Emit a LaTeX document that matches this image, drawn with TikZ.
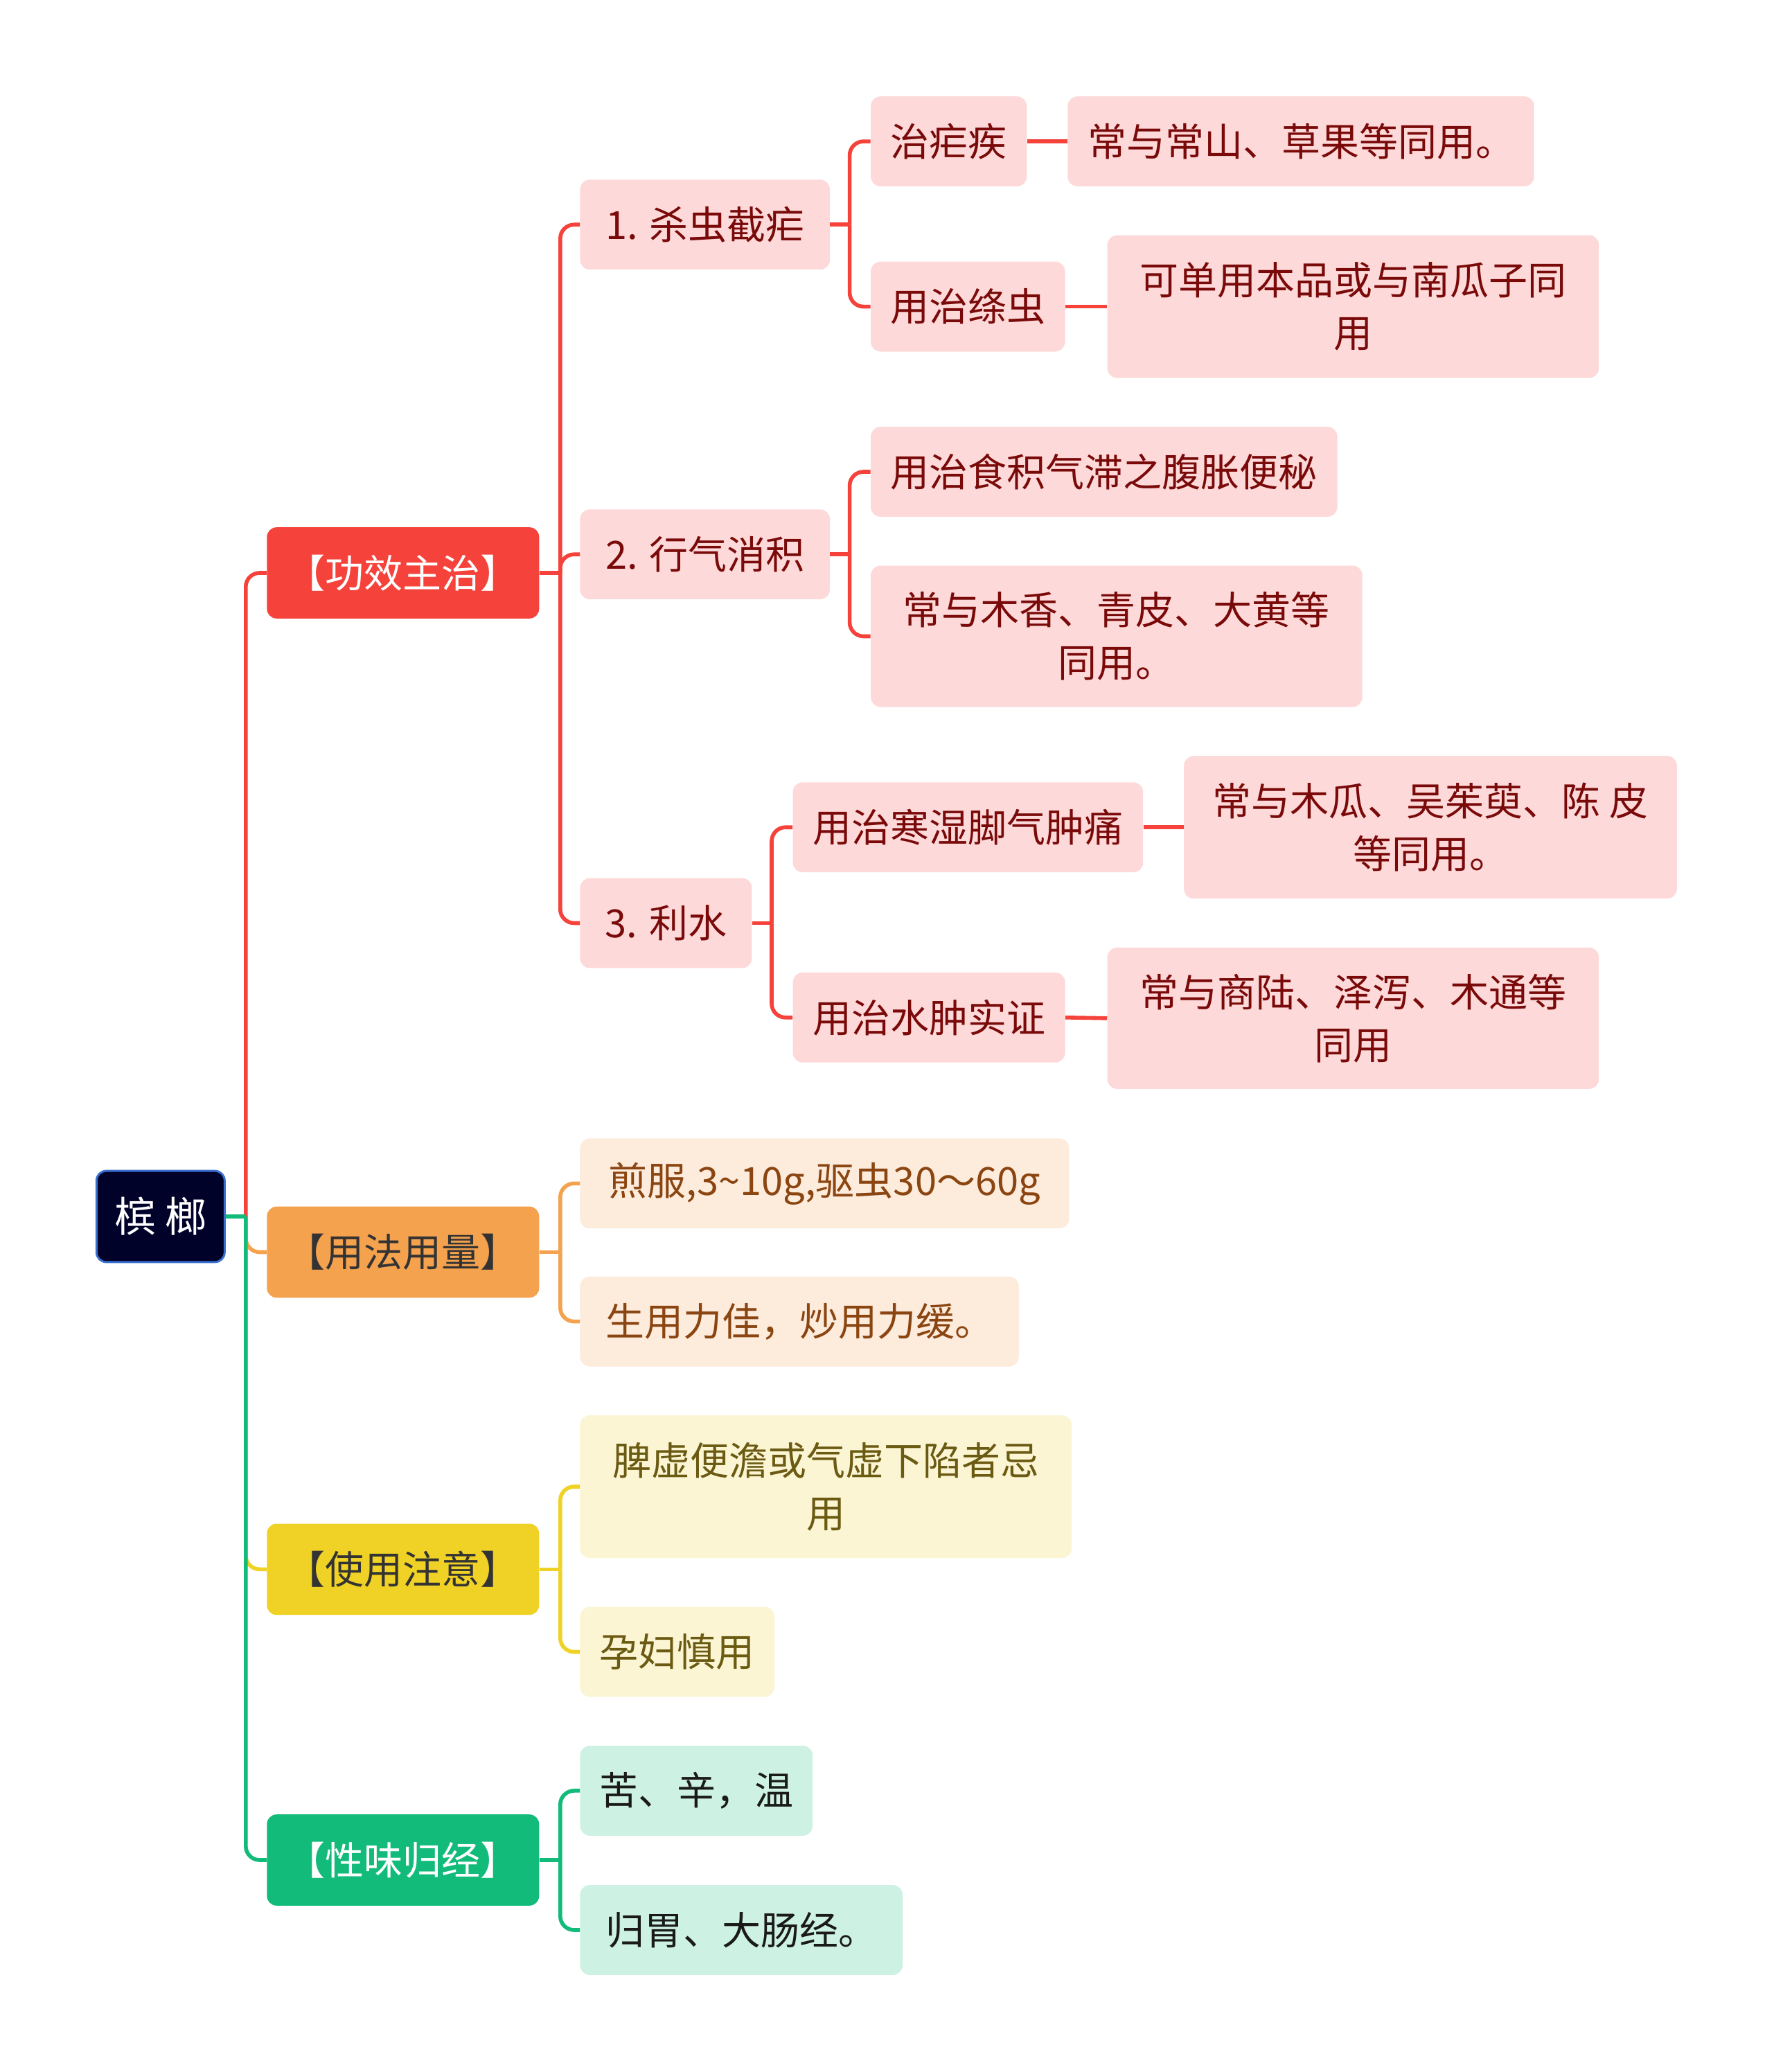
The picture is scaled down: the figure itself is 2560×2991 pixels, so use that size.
\documentclass[tikz,border=0pt]{standalone}
\usepackage{fontspec}
\setmainfont{Noto Sans CJK SC}
\definecolor{cRed}{HTML}{F5433C}
\definecolor{cOra}{HTML}{F4A24E}
\definecolor{cYel}{HTML}{F0D125}
\definecolor{cGrn}{HTML}{12BB7A}
\definecolor{pRed}{HTML}{FDD9D9}
\definecolor{tRed}{HTML}{7A0A0A}
\definecolor{pOra}{HTML}{FDEBDC}
\definecolor{tOra}{HTML}{8A4511}
\definecolor{pYel}{HTML}{FBF5D4}
\definecolor{tYel}{HTML}{6B5A12}
\definecolor{pGrn}{HTML}{CDF1E3}
\definecolor{tGrn}{HTML}{1A1A1A}
\definecolor{rootF}{HTML}{000229}
\definecolor{rootB}{HTML}{3A6FD0}
\definecolor{darkT}{HTML}{333333}
\tikzset{
 box/.style={rounded corners=7pt, inner sep=0pt, align=center, font=\fontsize{28}{38}\selectfont},
 rootbox/.style={box, fill=rootF, draw=rootB, line width=1.5pt, text=white, minimum width=92.5pt, minimum height=65.8pt, font=\fontsize{30}{38}\selectfont},
 lone/.style={box, minimum width=196.5pt, minimum height=65.8pt},
 pk/.style={box, fill=pRed, text=tRed, minimum height=64.9pt},
 po/.style={box, fill=pOra, text=tOra, minimum height=64.9pt},
 py/.style={box, fill=pYel, text=tYel, minimum height=64.9pt},
 pg/.style={box, fill=pGrn, text=tGrn, minimum height=64.9pt},
 conn/.style={line width=2.8pt, rounded corners=10pt}
}
\begin{document}
\begin{tikzpicture}[x=0.5pt,y=-0.5pt]
\useasboundingbox (0,0) rectangle (2560,2991);
\fill[white] (0,0) rectangle (2560,2991);

% root and level 1
\node[rootbox] (root) at (231.8,1756) {槟 榔};
\node[lone, fill=cRed, text=white] (gx) at (581.8,827) {【功效主治】};
\node[lone, fill=cOra, text=darkT] (yf) at (581.8,1807.5) {【用法用量】};
\node[lone, fill=cYel, text=darkT] (zy) at (581.8,2265.3) {【使用注意】};
\node[lone, fill=cGrn, text=white] (xw) at (581.8,2685) {【性味归经】};

% 功效主治
\node[pk, minimum width=180.3pt] (s1) at (1017.7,324.3) {1. 杀虫截疟};
\node[pk, minimum width=180.3pt] (s2) at (1017.7,800.2) {2. 行气消积};
\node[pk, minimum width=124pt] (s3) at (961.4,1332.5) {3. 利水};

\node[pk, minimum width=112.6pt] (a1) at (1369.7,204.1) {治疟疾};
\node[pk, minimum width=336.7pt] (a1c) at (1878,204.1) {常与常山、草果等同用。};
\node[pk, minimum width=140.2pt] (a2) at (1397.3,442.6) {用治绦虫};
\node[pk, minimum width=354.8pt, minimum height=103pt] (a2c) at (1953.4,442.6) {可单用本品或与南瓜子同\\用};

\node[pk, minimum width=336.7pt] (b1) at (1593.8,681) {用治食积气滞之腹胀便秘};
\node[pk, minimum width=354.8pt, minimum height=102pt] (b2) at (1611.9,918.5) {常与木香、青皮、大黄等\\同用。};

\node[pk, minimum width=252.8pt] (c1) at (1397.4,1194.2) {用治寒湿脚气肿痛};
\node[pk, minimum width=355.8pt, minimum height=103pt] (c1c) at (2065,1194.2) {常与木瓜、吴茱萸、陈 皮\\等同用。};
\node[pk, minimum width=196.5pt] (c2) at (1341.1,1468.8) {用治水肿实证};
\node[pk, minimum width=354.8pt, minimum height=102pt] (c2c) at (1953.4,1469.8) {常与商陆、泽泻、木通等\\同用};

% 用法用量
\node[po, minimum width=353pt] (d1) at (1190.4,1708.3) {煎服,3\textasciitilde10g,驱虫30～60g};
\node[po, minimum width=316.7pt] (d2) at (1154.1,1907.6) {生用力佳，炒用力缓。};

% 使用注意
\node[py, minimum width=354.9pt, minimum height=103pt] (e1) at (1192.3,2146) {脾虚便澹或气虚下陷者忌\\用};
\node[py, minimum width=140.3pt] (e2) at (977.7,2384.5) {孕妇慎用};

% 性味归经
\node[pg, minimum width=167.9pt] (f1) at (1005.3,2584.9) {苦、辛，温};
\node[pg, minimum width=232.8pt] (f2) at (1070.2,2786) {归胃、大肠经。};

% junction points
\coordinate (jr) at (354.8,1756);
\coordinate (jg) at (808.8,827);
\coordinate (js1) at (1226.6,324.3);
\coordinate (js2) at (1226.6,800.2);
\coordinate (js3) at (1114,1332.5);
\coordinate (jy) at (808.8,1807.5);
\coordinate (jz) at (808.8,2265.3);
\coordinate (jx) at (808.8,2685);

% root connectors
\draw[conn, cRed] (jr) |- (gx.west);
\draw[conn, cOra] (jr) |- (yf.west);
\draw[conn, cYel] (jr) |- (zy.west);
\draw[conn, cGrn] (jr) |- (xw.west);
\draw[conn, cGrn] (root.east) -- (jr);

% 功效主治 connectors
\draw[conn, cRed] (gx.east) -- (jg);
\draw[conn, cRed] (jg) |- (s1.west);
\draw[conn, cRed] (jg) |- (s2.west);
\draw[conn, cRed] (jg) |- (s3.west);

\draw[conn, cRed] (s1.east) -- (js1);
\draw[conn, cRed] (js1) |- (a1.west);
\draw[conn, cRed] (js1) |- (a2.west);
\draw[conn, cRed] (a1.east) -- (a1c.west);
\draw[conn, cRed] (a2.east) -- (a2c.west);

\draw[conn, cRed] (s2.east) -- (js2);
\draw[conn, cRed] (js2) |- (b1.west);
\draw[conn, cRed] (js2) |- (b2.west);

\draw[conn, cRed] (s3.east) -- (js3);
\draw[conn, cRed] (js3) |- (c1.west);
\draw[conn, cRed] (js3) |- (c2.west);
\draw[conn, cRed] (c1.east) -- (c1c.west);
\draw[conn, cRed] (c2.east) -- (c2c.west);

% other branches
\draw[conn, cOra] (yf.east) -- (jy);
\draw[conn, cOra] (jy) |- (d1.west);
\draw[conn, cOra] (jy) |- (d2.west);

\draw[conn, cYel] (zy.east) -- (jz);
\draw[conn, cYel] (jz) |- (e1.west);
\draw[conn, cYel] (jz) |- (e2.west);

\draw[conn, cGrn] (xw.east) -- (jx);
\draw[conn, cGrn] (jx) |- (f1.west);
\draw[conn, cGrn] (jx) |- (f2.west);
\end{tikzpicture}
\end{document}
